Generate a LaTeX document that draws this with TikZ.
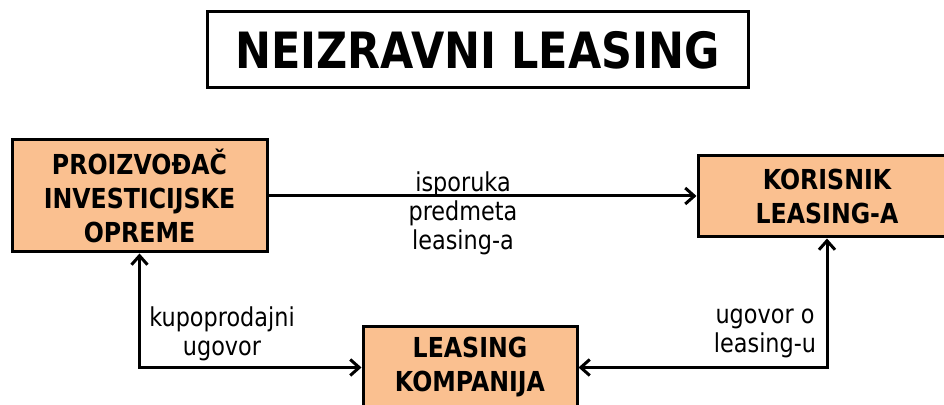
\documentclass[tikz,border=0pt]{standalone}
\usepackage{fontspec}
\setmainfont[FakeStretch=0.86]{DejaVu Sans}
\usetikzlibrary{arrows.meta}

\definecolor{peach}{RGB}{250,192,144}

\begin{document}
\begin{tikzpicture}[x=1pt,y=1pt,
    entity/.style={rectangle, draw, line width=1.5pt, fill=peach, align=center,
      inner sep=0pt, font=\fontsize{13.75}{17}\selectfont\bfseries},
    heading/.style={rectangle, draw, line width=1.5pt, inner sep=0pt,
      minimum width=270.5pt, minimum height=38pt,
      font=\fontsize{25}{30}\selectfont\bfseries},
    note/.style={align=center, font=\fontsize{13}{14.5}\selectfont},
    >={Straight Barb[length=4.5pt,width=8pt]}, link/.style={line width=1.5pt}]
    \useasboundingbox (0,0) rectangle (472,202.5);
    \node[heading] (T) at (238.75,177.5) {NEIZRAVNI LEASING};
    \node[entity,minimum width=127.5pt,minimum height=56pt] (P) at (69.75,104.5)
      {PROIZVOĐAČ\\INVESTICIJSKE\\OPREME};
    \node[entity,minimum width=129pt,minimum height=40.5pt] (K) at (413.5,104.25)
      {KORISNIK\\LEASING-A};
    \node[entity,minimum width=107pt,minimum height=40.5pt] (L) at (235,18.75)
      {LEASING\\KOMPANIJA};
    \draw[link,->] (P.east) -- (P.east -| K.west);
    \draw[link,<->] (P.south) |- (L.west);
    \draw[link,<->] (L.east) -| (K.south);
    \node[note] (n1) at (231.5,96) {isporuka\\predmeta\\leasing-a};
    \node[note] (n2) at (111,35.5) {kupoprodajni\\ugovor};
    \node[note] (n3) at (382.5,36) {ugovor o\\leasing-u};
\end{tikzpicture}
\end{document}
